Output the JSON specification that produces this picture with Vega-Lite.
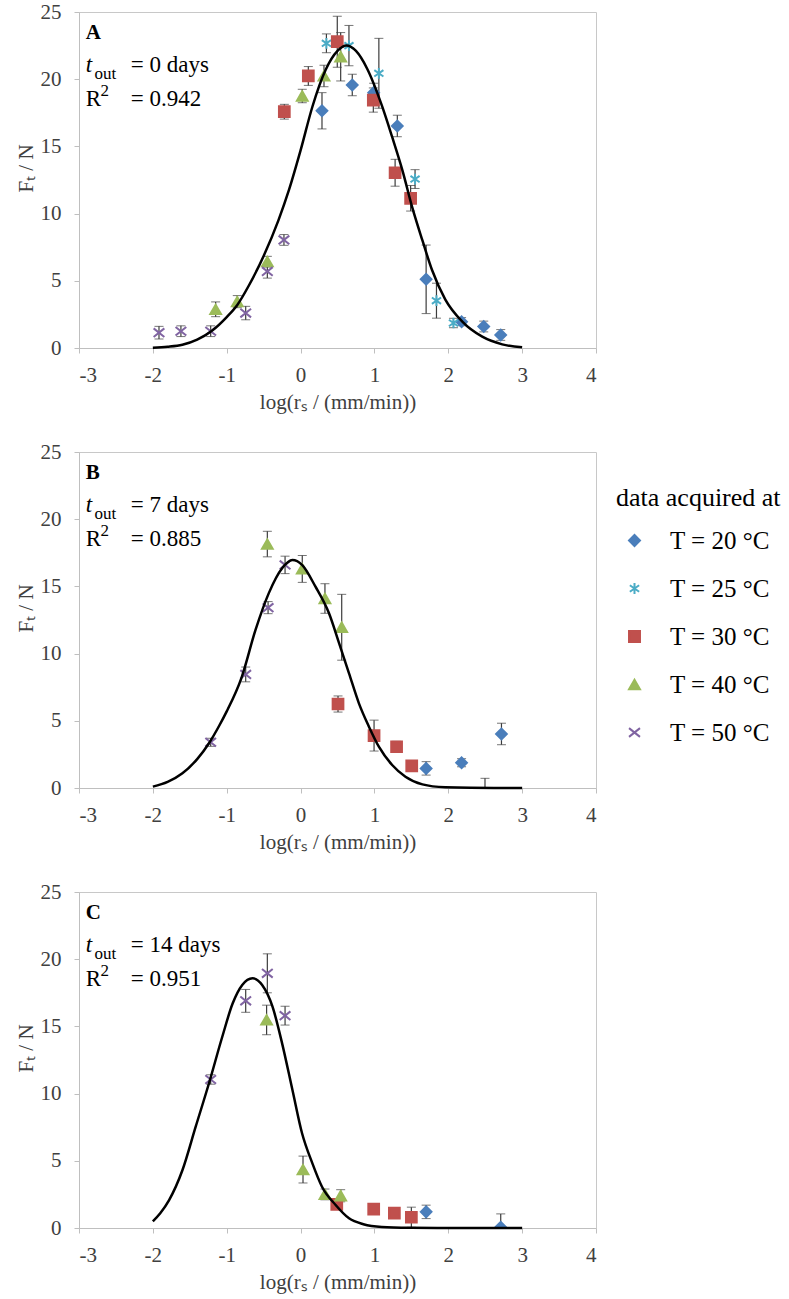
{
  "$schema": "https://vega.github.io/schema/vega-lite/v6.json",
  "padding": {"left": 14, "top": 0, "right": 2, "bottom": 3},
  "bounds": "flush",
  "spacing": 104,
  "config": {
    "font": "Liberation Serif",
    "view": {"stroke": "#c8c8c8", "strokeWidth": 1},
    "axis": {
      "grid": false, "domainColor": "#bfbfbf", "tickColor": "#bfbfbf",
      "labelColor": "#404040", "titleColor": "#404040",
      "labelFontSize": 21, "titleFontSize": 21, "titleFontWeight": "normal",
      "tickSize": 5, "labelFont": "Liberation Serif", "titleFont": "Liberation Serif",
      "labelExpr": "'' + datum.value"
    },
    "legend": {
      "orient": "none", "legendX": 537, "legendY": 473, "padding": 0,
      "titleFontSize": 26, "titleFontWeight": "normal", "titleColor": "black",
      "titleFont": "Liberation Serif", "labelFont": "Liberation Serif",
      "labelFontSize": 25, "labelColor": "black", "symbolSize": 120,
      "rowPadding": 22, "titlePadding": 17, "labelOffset": 23, "symbolOffset": 6,
      "symbolStrokeWidth": 2
    }
  },
  "datasets": {
    "points": [
      {"panel": "A", "T": "T = 20 °C", "x": 0.29, "y": 17.65, "err": 1.35},
      {"panel": "A", "T": "T = 20 °C", "x": 0.70, "y": 19.57, "err": 0.8},
      {"panel": "A", "T": "T = 20 °C", "x": 0.99, "y": 19.0, "err": 0.7},
      {"panel": "A", "T": "T = 20 °C", "x": 1.31, "y": 16.52, "err": 0.8},
      {"panel": "A", "T": "T = 20 °C", "x": 1.70, "y": 5.11, "err": 2.55},
      {"panel": "A", "T": "T = 20 °C", "x": 2.18, "y": 1.96, "err": 0.3},
      {"panel": "A", "T": "T = 20 °C", "x": 2.48, "y": 1.6, "err": 0.4},
      {"panel": "A", "T": "T = 20 °C", "x": 2.71, "y": 0.97, "err": 0.4},
      {"panel": "A", "T": "T = 25 °C", "x": 0.35, "y": 22.67, "err": 0.7},
      {"panel": "A", "T": "T = 25 °C", "x": 0.655, "y": 22.5, "err": 1.5},
      {"panel": "A", "T": "T = 25 °C", "x": 1.06, "y": 20.44, "err": 2.6},
      {"panel": "A", "T": "T = 25 °C", "x": 1.55, "y": 12.57, "err": 0.7},
      {"panel": "A", "T": "T = 25 °C", "x": 1.84, "y": 3.52, "err": 1.3},
      {"panel": "A", "T": "T = 25 °C", "x": 2.07, "y": 1.86, "err": 0.35},
      {"panel": "A", "T": "T = 30 °C", "x": -0.22, "y": 17.58, "err": 0.55},
      {"panel": "A", "T": "T = 30 °C", "x": 0.105, "y": 20.24, "err": 0.7},
      {"panel": "A", "T": "T = 30 °C", "x": 0.497, "y": 22.79, "err": 1.9},
      {"panel": "A", "T": "T = 30 °C", "x": 0.985, "y": 18.45, "err": 0.9},
      {"panel": "A", "T": "T = 30 °C", "x": 1.28, "y": 13.04, "err": 1.0},
      {"panel": "A", "T": "T = 30 °C", "x": 1.49, "y": 11.14, "err": 0.95},
      {"panel": "A", "T": "T = 40 °C", "x": -1.15, "y": 2.88, "err": 0.55},
      {"panel": "A", "T": "T = 40 °C", "x": -0.857, "y": 3.45, "err": 0.45},
      {"panel": "A", "T": "T = 40 °C", "x": -0.45, "y": 6.42, "err": 0.4},
      {"panel": "A", "T": "T = 40 °C", "x": 0.023, "y": 18.75, "err": 0.5},
      {"panel": "A", "T": "T = 40 °C", "x": 0.317, "y": 20.24, "err": 0.8},
      {"panel": "A", "T": "T = 40 °C", "x": 0.543, "y": 21.67, "err": 1.8},
      {"panel": "A", "T": "T = 50 °C", "x": -1.917, "y": 1.14, "err": 0.47},
      {"panel": "A", "T": "T = 50 °C", "x": -1.62, "y": 1.25, "err": 0.4},
      {"panel": "A", "T": "T = 50 °C", "x": -1.217, "y": 1.25, "err": 0.4},
      {"panel": "A", "T": "T = 50 °C", "x": -0.743, "y": 2.6, "err": 0.5},
      {"panel": "A", "T": "T = 50 °C", "x": -0.45, "y": 5.7, "err": 0.5},
      {"panel": "A", "T": "T = 50 °C", "x": -0.225, "y": 8.04, "err": 0.4},

      {"panel": "B", "T": "T = 20 °C", "x": 1.70, "y": 1.46, "err": 0.5},
      {"panel": "B", "T": "T = 20 °C", "x": 2.18, "y": 1.88, "err": 0.3},
      {"panel": "B", "T": "T = 20 °C", "x": 2.497, "y": -0.5, "err": 1.22},
      {"panel": "B", "T": "T = 20 °C", "x": 2.72, "y": 4.02, "err": 0.8},
      {"panel": "B", "T": "T = 30 °C", "x": 0.507, "y": 6.25, "err": 0.6},
      {"panel": "B", "T": "T = 30 °C", "x": 0.995, "y": 3.9, "err": 1.15},
      {"panel": "B", "T": "T = 30 °C", "x": 1.30, "y": 3.07, "err": 0.4},
      {"panel": "B", "T": "T = 30 °C", "x": 1.505, "y": 1.64, "err": 0.1},
      {"panel": "B", "T": "T = 40 °C", "x": -0.45, "y": 18.15, "err": 0.95},
      {"panel": "B", "T": "T = 40 °C", "x": 0.023, "y": 16.3, "err": 1.0},
      {"panel": "B", "T": "T = 40 °C", "x": 0.33, "y": 14.1, "err": 1.1},
      {"panel": "B", "T": "T = 40 °C", "x": 0.557, "y": 11.96, "err": 2.45},
      {"panel": "B", "T": "T = 50 °C", "x": -1.217, "y": 3.4, "err": 0.3},
      {"panel": "B", "T": "T = 50 °C", "x": -0.743, "y": 8.45, "err": 0.55},
      {"panel": "B", "T": "T = 50 °C", "x": -0.44, "y": 13.42, "err": 0.45},
      {"panel": "B", "T": "T = 50 °C", "x": -0.21, "y": 16.6, "err": 0.65},

      {"panel": "C", "T": "T = 20 °C", "x": 1.70, "y": 1.2, "err": 0.5},
      {"panel": "C", "T": "T = 20 °C", "x": 2.71, "y": 0.05, "err": 1.0},
      {"panel": "C", "T": "T = 30 °C", "x": 0.49, "y": 1.75, "err": 0.1},
      {"panel": "C", "T": "T = 30 °C", "x": 0.99, "y": 1.4, "err": 0.2},
      {"panel": "C", "T": "T = 30 °C", "x": 1.27, "y": 1.1, "err": 0.2},
      {"panel": "C", "T": "T = 30 °C", "x": 1.50, "y": 0.8, "err": 0.75},
      {"panel": "C", "T": "T = 40 °C", "x": -0.46, "y": 15.48, "err": 1.1},
      {"panel": "C", "T": "T = 40 °C", "x": 0.033, "y": 4.35, "err": 1.0},
      {"panel": "C", "T": "T = 40 °C", "x": 0.33, "y": 2.5, "err": 0.4},
      {"panel": "C", "T": "T = 40 °C", "x": 0.543, "y": 2.4, "err": 0.45},
      {"panel": "C", "T": "T = 50 °C", "x": -1.217, "y": 11.05, "err": 0.35},
      {"panel": "C", "T": "T = 50 °C", "x": -0.743, "y": 16.9, "err": 0.85},
      {"panel": "C", "T": "T = 50 °C", "x": -0.45, "y": 18.95, "err": 1.45},
      {"panel": "C", "T": "T = 50 °C", "x": -0.21, "y": 15.8, "err": 0.7}
    ],
    "curve": [
      {"panel": "A", "x": -2.0, "y": 0.02}, {"panel": "A", "x": -1.8, "y": 0.09},
      {"panel": "A", "x": -1.6, "y": 0.24}, {"panel": "A", "x": -1.4, "y": 0.62},
      {"panel": "A", "x": -1.2, "y": 1.28}, {"panel": "A", "x": -1.0, "y": 2.3},
      {"panel": "A", "x": -0.857, "y": 3.2}, {"panel": "A", "x": -0.7, "y": 4.65},
      {"panel": "A", "x": -0.5, "y": 6.85}, {"panel": "A", "x": -0.3, "y": 9.5},
      {"panel": "A", "x": -0.157, "y": 11.76}, {"panel": "A", "x": 0.0, "y": 14.7},
      {"panel": "A", "x": 0.16, "y": 17.95}, {"panel": "A", "x": 0.34, "y": 20.7},
      {"panel": "A", "x": 0.5, "y": 22.1}, {"panel": "A", "x": 0.62, "y": 22.5},
      {"panel": "A", "x": 0.75, "y": 22.1}, {"panel": "A", "x": 0.9, "y": 20.8},
      {"panel": "A", "x": 1.1, "y": 18.05}, {"panel": "A", "x": 1.24, "y": 15.7},
      {"panel": "A", "x": 1.38, "y": 13.2}, {"panel": "A", "x": 1.51, "y": 10.5},
      {"panel": "A", "x": 1.65, "y": 8.0}, {"panel": "A", "x": 1.78, "y": 5.8},
      {"panel": "A", "x": 1.96, "y": 3.6}, {"panel": "A", "x": 2.19, "y": 1.96},
      {"panel": "A", "x": 2.46, "y": 0.84}, {"panel": "A", "x": 2.73, "y": 0.27},
      {"panel": "A", "x": 3.0, "y": 0.05},

      {"panel": "B", "x": -2.0, "y": 0.1}, {"panel": "B", "x": -1.8, "y": 0.45},
      {"panel": "B", "x": -1.6, "y": 1.09}, {"panel": "B", "x": -1.4, "y": 2.15},
      {"panel": "B", "x": -1.24, "y": 3.33}, {"panel": "B", "x": -1.1, "y": 4.65},
      {"panel": "B", "x": -1.0, "y": 5.7}, {"panel": "B", "x": -0.8, "y": 8.2},
      {"panel": "B", "x": -0.61, "y": 11.76}, {"panel": "B", "x": -0.43, "y": 14.5},
      {"panel": "B", "x": -0.25, "y": 16.35}, {"panel": "B", "x": -0.11, "y": 16.96},
      {"panel": "B", "x": 0.02, "y": 16.6}, {"panel": "B", "x": 0.2, "y": 15.0},
      {"panel": "B", "x": 0.385, "y": 13.0}, {"panel": "B", "x": 0.52, "y": 10.8},
      {"panel": "B", "x": 0.656, "y": 8.53}, {"panel": "B", "x": 0.79, "y": 6.3},
      {"panel": "B", "x": 0.926, "y": 4.56}, {"panel": "B", "x": 1.06, "y": 3.07},
      {"panel": "B", "x": 1.24, "y": 1.71}, {"panel": "B", "x": 1.42, "y": 0.84},
      {"panel": "B", "x": 1.65, "y": 0.27}, {"panel": "B", "x": 1.96, "y": 0.05},
      {"panel": "B", "x": 2.3, "y": 0.01}, {"panel": "B", "x": 3.0, "y": 0.0},

      {"panel": "C", "x": -2.0, "y": 0.5}, {"panel": "C", "x": -1.9, "y": 1.1},
      {"panel": "C", "x": -1.78, "y": 2.08}, {"panel": "C", "x": -1.6, "y": 4.3},
      {"panel": "C", "x": -1.42, "y": 7.54}, {"panel": "C", "x": -1.24, "y": 10.77},
      {"panel": "C", "x": -1.06, "y": 14.23}, {"panel": "C", "x": -0.92, "y": 16.7},
      {"panel": "C", "x": -0.79, "y": 18.08}, {"panel": "C", "x": -0.65, "y": 18.58},
      {"panel": "C", "x": -0.52, "y": 18.08}, {"panel": "C", "x": -0.38, "y": 16.47},
      {"panel": "C", "x": -0.25, "y": 13.74}, {"panel": "C", "x": -0.11, "y": 10.27},
      {"panel": "C", "x": 0.02, "y": 7.05}, {"panel": "C", "x": 0.16, "y": 4.81},
      {"panel": "C", "x": 0.29, "y": 3.07}, {"panel": "C", "x": 0.475, "y": 1.71},
      {"panel": "C", "x": 0.656, "y": 0.72}, {"panel": "C", "x": 0.85, "y": 0.28},
      {"panel": "C", "x": 1.1, "y": 0.08}, {"panel": "C", "x": 1.5, "y": 0.02},
      {"panel": "C", "x": 2.0, "y": 0.0}, {"panel": "C", "x": 3.0, "y": 0.0}
    ],
    "notes": [
      {"panel": "A", "kind": "letter", "x": -2.91, "y": 23.0, "text": "A"},
      {"panel": "A", "kind": "t", "x": -2.91, "y": 20.5, "text": "t"},
      {"panel": "A", "kind": "sub", "x": -2.79, "y": 20.05, "text": "out"},
      {"panel": "A", "kind": "main", "x": -2.30, "y": 20.5, "text": "= 0 days"},
      {"panel": "A", "kind": "main", "x": -2.91, "y": 18.0, "text": "R"},
      {"panel": "A", "kind": "sup", "x": -2.71, "y": 18.75, "text": "2"},
      {"panel": "A", "kind": "main", "x": -2.30, "y": 18.0, "text": "= 0.942"},
      {"panel": "B", "kind": "letter", "x": -2.91, "y": 23.0, "text": "B"},
      {"panel": "B", "kind": "t", "x": -2.91, "y": 20.5, "text": "t"},
      {"panel": "B", "kind": "sub", "x": -2.79, "y": 20.05, "text": "out"},
      {"panel": "B", "kind": "main", "x": -2.30, "y": 20.5, "text": "= 7 days"},
      {"panel": "B", "kind": "main", "x": -2.91, "y": 18.0, "text": "R"},
      {"panel": "B", "kind": "sup", "x": -2.71, "y": 18.75, "text": "2"},
      {"panel": "B", "kind": "main", "x": -2.30, "y": 18.0, "text": "= 0.885"},
      {"panel": "C", "kind": "letter", "x": -2.91, "y": 23.0, "text": "C"},
      {"panel": "C", "kind": "t", "x": -2.91, "y": 20.5, "text": "t"},
      {"panel": "C", "kind": "sub", "x": -2.79, "y": 20.05, "text": "out"},
      {"panel": "C", "kind": "main", "x": -2.30, "y": 20.5, "text": "= 14 days"},
      {"panel": "C", "kind": "main", "x": -2.91, "y": 18.0, "text": "R"},
      {"panel": "C", "kind": "sup", "x": -2.71, "y": 18.75, "text": "2"},
      {"panel": "C", "kind": "main", "x": -2.30, "y": 18.0, "text": "= 0.951"}
    ]
  },
  "vconcat": [
    {
      "width": 517, "height": 336,
      "encoding": {
        "x": {"field": "x", "type": "quantitative", "scale": {"domain": [-3, 4], "nice": false},
              "axis": {"values": [-3, -2, -1, 0, 1, 2, 3, 4], "title": "log(rₛ / (mm/min))", "labelPadding": 11, "titlePadding": 6}},
        "y": {"field": "y", "type": "quantitative", "scale": {"domain": [0, 25], "nice": false},
              "axis": {"values": [0, 5, 10, 15, 20, 25], "title": "Fₜ / N", "labelPadding": 13, "titleX": -53, "titleY": 156, "titleAngle": -90, "titleAlign": "center", "titleBaseline": "middle"}}
      },
      "layer": [
        {"data": {"name": "points"}, "transform": [{"filter": "datum.panel === 'A'"}],
         "mark": {"type": "errorbar", "ticks": {"size": 9, "color": "#3c3c3c", "strokeWidth": 1.2, "clip": true}, "rule": {"color": "#3c3c3c", "strokeWidth": 1.2, "clip": true}},
         "encoding": {"yError": {"field": "err"}}},
        {"data": {"name": "points"}, "transform": [{"filter": "datum.panel === 'A'"}],
         "mark": {"type": "point", "filled": true, "size": 115, "opacity": 1, "strokeWidth": 2, "clip": true},
         "encoding": {
           "fill": {"field": "T", "type": "nominal", "title": "data acquired at", "scale": {"domain": ["T = 20 °C", "T = 25 °C", "T = 30 °C", "T = 40 °C", "T = 50 °C"], "range": ["#4a7ebb", "#4bacc6", "#c0504d", "#9bbb59", "#8064a2"]}},
           "stroke": {"field": "T", "type": "nominal", "title": "data acquired at", "scale": {"domain": ["T = 20 °C", "T = 25 °C", "T = 30 °C", "T = 40 °C", "T = 50 °C"], "range": ["#4a7ebb", "#4bacc6", "#c0504d", "#9bbb59", "#8064a2"]}},
           "shape": {"field": "T", "type": "nominal", "title": "data acquired at", "scale": {"domain": ["T = 20 °C", "T = 25 °C", "T = 30 °C", "T = 40 °C", "T = 50 °C"], "range": ["diamond", "M0,-1L0,1M-0.85,-0.6L0.85,0.6M-0.85,0.6L0.85,-0.6", "square", "triangle-up", "M-1,-0.8L1,0.8M-1,0.8L1,-0.8"]}}
         }},
        {"data": {"name": "curve"}, "transform": [{"filter": "datum.panel === 'A'"}],
         "mark": {"type": "line", "color": "black", "strokeWidth": 2.5, "interpolate": "monotone"}, "encoding": {}},
        {"data": {"name": "notes"}, "transform": [{"filter": "datum.panel === 'A' && datum.kind === 'letter'"}],
         "mark": {"type": "text", "align": "left", "baseline": "alphabetic", "fontSize": 21, "fontWeight": "bold", "color": "black"},
         "encoding": {"text": {"field": "text"}}},
        {"data": {"name": "notes"}, "transform": [{"filter": "datum.panel === 'A' && datum.kind === 't'"}],
         "mark": {"type": "text", "align": "left", "baseline": "alphabetic", "fontSize": 23, "fontStyle": "italic", "color": "black"},
         "encoding": {"text": {"field": "text"}}},
        {"data": {"name": "notes"}, "transform": [{"filter": "datum.panel === 'A' && (datum.kind === 'sub' || datum.kind === 'sup')"}],
         "mark": {"type": "text", "align": "left", "baseline": "alphabetic", "fontSize": 17, "color": "black"},
         "encoding": {"text": {"field": "text"}}},
        {"data": {"name": "notes"}, "transform": [{"filter": "datum.panel === 'A' && datum.kind === 'main'"}],
         "mark": {"type": "text", "align": "left", "baseline": "alphabetic", "fontSize": 23, "color": "black"},
         "encoding": {"text": {"field": "text"}}}
      ]
    },
    {
      "width": 517, "height": 336,
      "encoding": {
        "x": {"field": "x", "type": "quantitative", "scale": {"domain": [-3, 4], "nice": false},
              "axis": {"values": [-3, -2, -1, 0, 1, 2, 3, 4], "title": "log(rₛ / (mm/min))", "labelPadding": 11, "titlePadding": 6}},
        "y": {"field": "y", "type": "quantitative", "scale": {"domain": [0, 25], "nice": false},
              "axis": {"values": [0, 5, 10, 15, 20, 25], "title": "Fₜ / N", "labelPadding": 13, "titleX": -53, "titleY": 156, "titleAngle": -90, "titleAlign": "center", "titleBaseline": "middle"}}
      },
      "layer": [
        {"data": {"name": "points"}, "transform": [{"filter": "datum.panel === 'B'"}],
         "mark": {"type": "errorbar", "ticks": {"size": 9, "color": "#3c3c3c", "strokeWidth": 1.2, "clip": true}, "rule": {"color": "#3c3c3c", "strokeWidth": 1.2, "clip": true}},
         "encoding": {"yError": {"field": "err"}}},
        {"data": {"name": "points"}, "transform": [{"filter": "datum.panel === 'B'"}],
         "mark": {"type": "point", "filled": true, "size": 115, "opacity": 1, "strokeWidth": 2, "clip": true},
         "encoding": {
           "fill": {"field": "T", "type": "nominal", "title": "data acquired at", "scale": {"domain": ["T = 20 °C", "T = 25 °C", "T = 30 °C", "T = 40 °C", "T = 50 °C"], "range": ["#4a7ebb", "#4bacc6", "#c0504d", "#9bbb59", "#8064a2"]}},
           "stroke": {"field": "T", "type": "nominal", "title": "data acquired at", "scale": {"domain": ["T = 20 °C", "T = 25 °C", "T = 30 °C", "T = 40 °C", "T = 50 °C"], "range": ["#4a7ebb", "#4bacc6", "#c0504d", "#9bbb59", "#8064a2"]}},
           "shape": {"field": "T", "type": "nominal", "title": "data acquired at", "scale": {"domain": ["T = 20 °C", "T = 25 °C", "T = 30 °C", "T = 40 °C", "T = 50 °C"], "range": ["diamond", "M0,-1L0,1M-0.85,-0.6L0.85,0.6M-0.85,0.6L0.85,-0.6", "square", "triangle-up", "M-1,-0.8L1,0.8M-1,0.8L1,-0.8"]}}
         }},
        {"data": {"name": "curve"}, "transform": [{"filter": "datum.panel === 'B'"}],
         "mark": {"type": "line", "color": "black", "strokeWidth": 2.5, "interpolate": "monotone"}, "encoding": {}},
        {"data": {"name": "notes"}, "transform": [{"filter": "datum.panel === 'B' && datum.kind === 'letter'"}],
         "mark": {"type": "text", "align": "left", "baseline": "alphabetic", "fontSize": 21, "fontWeight": "bold", "color": "black"},
         "encoding": {"text": {"field": "text"}}},
        {"data": {"name": "notes"}, "transform": [{"filter": "datum.panel === 'B' && datum.kind === 't'"}],
         "mark": {"type": "text", "align": "left", "baseline": "alphabetic", "fontSize": 23, "fontStyle": "italic", "color": "black"},
         "encoding": {"text": {"field": "text"}}},
        {"data": {"name": "notes"}, "transform": [{"filter": "datum.panel === 'B' && (datum.kind === 'sub' || datum.kind === 'sup')"}],
         "mark": {"type": "text", "align": "left", "baseline": "alphabetic", "fontSize": 17, "color": "black"},
         "encoding": {"text": {"field": "text"}}},
        {"data": {"name": "notes"}, "transform": [{"filter": "datum.panel === 'B' && datum.kind === 'main'"}],
         "mark": {"type": "text", "align": "left", "baseline": "alphabetic", "fontSize": 23, "color": "black"},
         "encoding": {"text": {"field": "text"}}}
      ]
    },
    {
      "width": 517, "height": 336,
      "encoding": {
        "x": {"field": "x", "type": "quantitative", "scale": {"domain": [-3, 4], "nice": false},
              "axis": {"values": [-3, -2, -1, 0, 1, 2, 3, 4], "title": "log(rₛ / (mm/min))", "labelPadding": 11, "titlePadding": 6}},
        "y": {"field": "y", "type": "quantitative", "scale": {"domain": [0, 25], "nice": false},
              "axis": {"values": [0, 5, 10, 15, 20, 25], "title": "Fₜ / N", "labelPadding": 13, "titleX": -53, "titleY": 156, "titleAngle": -90, "titleAlign": "center", "titleBaseline": "middle"}}
      },
      "layer": [
        {"data": {"name": "points"}, "transform": [{"filter": "datum.panel === 'C'"}],
         "mark": {"type": "errorbar", "ticks": {"size": 9, "color": "#3c3c3c", "strokeWidth": 1.2, "clip": true}, "rule": {"color": "#3c3c3c", "strokeWidth": 1.2, "clip": true}},
         "encoding": {"yError": {"field": "err"}}},
        {"data": {"name": "points"}, "transform": [{"filter": "datum.panel === 'C'"}],
         "mark": {"type": "point", "filled": true, "size": 115, "opacity": 1, "strokeWidth": 2, "clip": true},
         "encoding": {
           "fill": {"field": "T", "type": "nominal", "title": "data acquired at", "scale": {"domain": ["T = 20 °C", "T = 25 °C", "T = 30 °C", "T = 40 °C", "T = 50 °C"], "range": ["#4a7ebb", "#4bacc6", "#c0504d", "#9bbb59", "#8064a2"]}},
           "stroke": {"field": "T", "type": "nominal", "title": "data acquired at", "scale": {"domain": ["T = 20 °C", "T = 25 °C", "T = 30 °C", "T = 40 °C", "T = 50 °C"], "range": ["#4a7ebb", "#4bacc6", "#c0504d", "#9bbb59", "#8064a2"]}},
           "shape": {"field": "T", "type": "nominal", "title": "data acquired at", "scale": {"domain": ["T = 20 °C", "T = 25 °C", "T = 30 °C", "T = 40 °C", "T = 50 °C"], "range": ["diamond", "M0,-1L0,1M-0.85,-0.6L0.85,0.6M-0.85,0.6L0.85,-0.6", "square", "triangle-up", "M-1,-0.8L1,0.8M-1,0.8L1,-0.8"]}}
         }},
        {"data": {"name": "curve"}, "transform": [{"filter": "datum.panel === 'C'"}],
         "mark": {"type": "line", "color": "black", "strokeWidth": 2.5, "interpolate": "monotone"}, "encoding": {}},
        {"data": {"name": "notes"}, "transform": [{"filter": "datum.panel === 'C' && datum.kind === 'letter'"}],
         "mark": {"type": "text", "align": "left", "baseline": "alphabetic", "fontSize": 21, "fontWeight": "bold", "color": "black"},
         "encoding": {"text": {"field": "text"}}},
        {"data": {"name": "notes"}, "transform": [{"filter": "datum.panel === 'C' && datum.kind === 't'"}],
         "mark": {"type": "text", "align": "left", "baseline": "alphabetic", "fontSize": 23, "fontStyle": "italic", "color": "black"},
         "encoding": {"text": {"field": "text"}}},
        {"data": {"name": "notes"}, "transform": [{"filter": "datum.panel === 'C' && (datum.kind === 'sub' || datum.kind === 'sup')"}],
         "mark": {"type": "text", "align": "left", "baseline": "alphabetic", "fontSize": 17, "color": "black"},
         "encoding": {"text": {"field": "text"}}},
        {"data": {"name": "notes"}, "transform": [{"filter": "datum.panel === 'C' && datum.kind === 'main'"}],
         "mark": {"type": "text", "align": "left", "baseline": "alphabetic", "fontSize": 23, "color": "black"},
         "encoding": {"text": {"field": "text"}}}
      ]
    }
  ]
}
